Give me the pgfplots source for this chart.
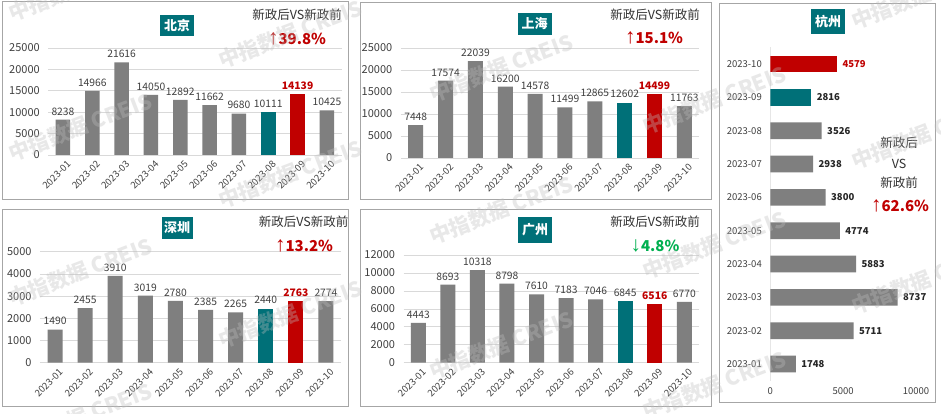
\documentclass[border=0pt]{standalone}
\usepackage{pgfplots}
\pgfplotsset{compat=1.18}
\usepackage{fontspec}
\setmainfont{Noto Sans CJK SC}
\newfontfamily\arrowfont{Liberation Sans}
\definecolor{barG}{RGB}{127,127,127}
\definecolor{barT}{RGB}{0,112,120}
\definecolor{barR}{RGB}{192,0,0}
\definecolor{txt}{RGB}{64,64,64}
\definecolor{grn}{RGB}{0,176,80}
\definecolor{frame}{RGB}{166,166,166}
\definecolor{gridc}{RGB}{217,217,217}
\definecolor{wm}{RGB}{190,190,190}
\newcommand{\fs}[1]{\fontsize{#1}{#1}\selectfont}
\newcommand{\up}{{\arrowfont\fontsize{21}{21}\selectfont ↑}}
\newcommand{\down}{{\arrowfont\fontsize{21}{21}\selectfont ↓}}
\pgfplotsset{
  common/.style={
    scale only axis,
    /pgf/number format/assume math mode=true,
    /pgf/number format/.cd, fixed, precision=0, 1000 sep={},
    /pgfplots/.cd,
    axis line style={draw=none},
    major tick length=0pt,
    tick label style={text=txt},
  },
  vchart/.style={
    common,
    ybar, bar shift=0pt,
    xmin=-0.5, xmax=9.5, ymin=0,
    xtick={0,...,9},
    xticklabels={2023-01,2023-02,2023-03,2023-04,2023-05,2023-06,2023-07,2023-08,2023-09,2023-10},
    x tick label style={rotate=45, anchor=north east, font=\fs{9.5}, inner sep=1pt, yshift=-5pt},
    y tick label style={font=\fs{11}, xshift=-5pt},
    ymajorgrids, grid style={draw=gridc, line width=0.6pt},
    scaled y ticks=false,
    nodes near coords,
    every node near coord/.append style={font=\fs{10.3}, text=txt, yshift=1pt},
  },
  redlab/.style={every node near coord/.append style={font=\fs{10.3}\bfseries, text=barR}},
}
\begin{document}
\begin{tikzpicture}[x=1pt,y=1pt]
\path[use as bounding box, fill=white] (0,0) rectangle (941,414);
% panel frames
\draw[frame, line width=1pt] (2,412) rectangle (348.5,214);
\draw[frame, line width=1pt] (360,411) rectangle (711,214);
\draw[frame, line width=1pt] (2,204) rectangle (348.5,7);
\draw[frame, line width=1pt] (360,204) rectangle (711.5,7.3);
\draw[frame, line width=1pt] (719.3,410) rectangle (935,11);

% ===== Beijing =====
\begin{axis}[vchart, at={(48.3pt,259pt)}, anchor=south west, width=293.3pt, height=107pt,
  ymax=25000, ytick={0,5000,...,25000}, bar width=14.5pt]
\addplot[fill=barG, draw=none] coordinates {(0,8238) (1,14966) (2,21616) (3,14050) (4,12892) (5,11662) (6,9680) (9,10425)};
\addplot[fill=barT, draw=none] coordinates {(7,10111)};
\addplot[fill=barR, draw=none, redlab] coordinates {(8,14139)};
\end{axis}
\node[fill=barT, text=white, font=\fs{13}\bfseries, inner sep=0pt, minimum width=34pt, minimum height=21pt] at (177,388.5) {北京};
\node[font=\fs{12.5}, text=black!80, inner sep=1pt] at (297,399) {新政后VS新政前};
\node[font=\fs{15}\bfseries, text=barR, inner sep=1pt] at (297,375.5) {\up39.8\%};

% ===== Shanghai =====
\begin{axis}[vchart, at={(400.8pt,256pt)}, anchor=south west, width=298.5pt, height=110pt,
  ymax=25000, ytick={0,5000,...,25000}, bar width=15pt]
\addplot[fill=barG, draw=none] coordinates {(0,7448) (1,17574) (2,22039) (3,16200) (4,14578) (5,11499) (6,12865) (9,11763)};
\addplot[fill=barT, draw=none] coordinates {(7,12602)};
\addplot[fill=barR, draw=none, redlab] coordinates {(8,14499)};
\end{axis}
\node[fill=barT, text=white, font=\fs{13}\bfseries, inner sep=0pt, minimum width=34pt, minimum height=22pt] at (534.5,390) {上海};
\node[font=\fs{12.5}, text=black!80, inner sep=1pt] at (655,399) {新政后VS新政前};
\node[font=\fs{15}\bfseries, text=barR, inner sep=1pt] at (654,376.5) {\up15.1\%};

% ===== Shenzhen =====
\begin{axis}[vchart, at={(40pt,51.3pt)}, anchor=south west, width=301pt, height=111pt,
  ymax=5000, ytick={0,1000,...,5000}, bar width=15pt]
\addplot[fill=barG, draw=none] coordinates {(0,1490) (1,2455) (2,3910) (3,3019) (4,2780) (5,2385) (6,2265) (9,2774)};
\addplot[fill=barT, draw=none] coordinates {(7,2440)};
\addplot[fill=barR, draw=none, redlab] coordinates {(8,2763)};
\end{axis}
\node[fill=barT, text=white, font=\fs{13}\bfseries, inner sep=0pt, minimum width=31pt, minimum height=22pt] at (177,186) {深圳};
\node[font=\fs{12.5}, text=black!80, inner sep=1pt] at (303.5,192.3) {新政后VS新政前};
\node[font=\fs{15}\bfseries, text=barR, inner sep=1pt] at (304,168) {\up13.2\%};

% ===== Guangzhou =====
\begin{axis}[vchart, at={(403.5pt,51.3pt)}, anchor=south west, width=295.6pt, height=107.7pt,
  ymax=12000, ytick={0,2000,...,12000}, bar width=15pt]
\addplot[fill=barG, draw=none] coordinates {(0,4443) (1,8693) (2,10318) (3,8798) (4,7610) (5,7183) (6,7046) (9,6770)};
\addplot[fill=barT, draw=none] coordinates {(7,6845)};
\addplot[fill=barR, draw=none, redlab] coordinates {(8,6516)};
\end{axis}
\node[fill=barT, text=white, font=\fs{13}\bfseries, inner sep=0pt, minimum width=34pt, minimum height=26pt] at (535,184) {广州};
\node[font=\fs{12.5}, text=black!80, inner sep=1pt] at (655,192.3) {新政后VS新政前};
\node[font=\fs{15}\bfseries, text=grn, inner sep=1pt] at (655,168) {\down4.8\%};

% ===== Hangzhou =====
\begin{axis}[common, xbar, bar shift=0pt, at={(770.3pt,33.3pt)}, anchor=south west, width=145.7pt, height=333.3pt,
  xmin=0, xmax=10000, ymin=-0.5, ymax=9.5, bar width=16.7pt,
  xtick={0,5000,10000}, scaled x ticks=false,
  ytick={0,...,9},
  yticklabels={2023-01,2023-02,2023-03,2023-04,2023-05,2023-06,2023-07,2023-08,2023-09,2023-10},
  y tick label style={font=\fs{9.5}, xshift=-5pt},
  x tick label style={font=\fs{9.5}, yshift=-3pt},
  nodes near coords,
  every node near coord/.append style={font=\fs{9.5}\bfseries, text=black!85, xshift=2pt},
  ]
\draw[gridc, line width=0.8pt] (axis cs:0,-0.5) -- (axis cs:0,9.5);
\addplot[fill=barG, draw=none] coordinates {(1748,0) (5711,1) (8737,2) (5883,3) (4774,4) (3800,5) (2938,6) (3526,7)};
\addplot[fill=barT, draw=none] coordinates {(2816,8)};
\addplot[fill=barR, draw=none, every node near coord/.append style={text=barR}] coordinates {(4579,9)};
\end{axis}
\node[fill=barT, text=white, font=\fs{13}\bfseries, inner sep=0pt, minimum width=34pt, minimum height=25pt] at (828,392) {杭州};
\node[font=\fs{12.5}, text=black!80, inner sep=1pt] at (899,271) {新政后};
\node[font=\fs{12.5}, text=black!80, inner sep=1pt] at (899,250) {VS};
\node[font=\fs{12.5}, text=black!80, inner sep=1pt] at (899,231) {新政前};
\node[font=\fs{15}\bfseries, text=barR, inner sep=1pt] at (900,208) {\up62.6\%};

% ===== watermark =====
\begin{scope}[opacity=0.35]
\foreach \x/\y in {80/427, 80/287, 80/142, 80/-3,
                   290/380, 290/240, 290/100,
                   501/346, 501/204, 501/69,
                   714/314, 714/169, 714/29,
                   923/419, 923/279, 923/134}
  \node[text=wm, font=\fs{21}\bfseries, rotate=21, inner sep=0pt] at (\x,\y) {中指数据\ CREIS};
\end{scope}
\end{tikzpicture}
\end{document}
